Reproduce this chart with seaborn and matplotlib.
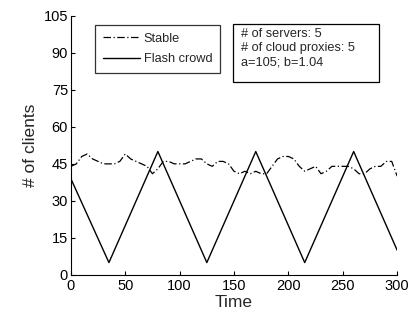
import matplotlib
matplotlib.use("Agg")
import matplotlib.pyplot as plt
from matplotlib.patches import Rectangle
import seaborn as sns
import pandas as pd

# Zeitachse und Serien
time_stable = list(range(0, 301, 5))
stable = [44, 45, 48, 49, 47, 46, 45, 45, 45, 46,
          49, 47, 46, 45, 44, 41, 43, 46, 46, 45,
          45, 45, 46, 47, 47, 45, 44, 46, 46, 45,
          42, 41, 42, 41, 42, 41, 41, 44, 47, 48,
          48, 47, 44, 42, 43, 44, 41, 42, 44, 44,
          44, 44, 43, 41, 41, 43, 44, 44, 46, 46, 40]
time_flash = [0, 35, 80, 125, 170, 215, 260, 300]
flash = [39, 5, 50, 5, 50, 5, 50, 10]

x_ticks = [0, 50, 100, 150, 200, 250, 300]
y_ticks = [0, 15, 30, 45, 60, 75, 90, 105]
info_lines = ["# of servers: 5", "# of cloud proxies: 5", "a=105; b=1.04"]

sns.set_style("ticks")
plt.rcParams['font.family'] = ['Liberation Sans', 'DejaVu Sans']
plt.rcParams['xtick.direction'] = 'in'
plt.rcParams['ytick.direction'] = 'in'

df_stable = pd.DataFrame({'Time': time_stable, 'clients': stable})
df_flash = pd.DataFrame({'Time': time_flash, 'clients': flash})

fig = plt.figure(figsize=(4.12, 3.16), dpi=100)
ax = fig.add_axes([0.172, 0.130, 0.792, 0.820])

sns.lineplot(data=df_stable, x='Time', y='clients', ax=ax, color='black',
             linestyle=(0, (6, 2, 1, 2)), linewidth=0.9, label='Stable')
sns.lineplot(data=df_flash, x='Time', y='clients', ax=ax, color='black',
             linewidth=1.0, label='Flash crowd')

ax.set_xlim(0, 300)
ax.set_ylim(0, 105)
ax.set_xticks(x_ticks)
ax.set_yticks(y_ticks)
ax.tick_params(labelsize=10.5, length=3, width=0.8, colors='black')
ax.tick_params(axis='x', pad=3)
ax.tick_params(axis='y', pad=2)
ax.set_xlabel('Time', fontsize=12.5, labelpad=1.5)
ax.set_ylabel('# of clients', fontsize=12.5, labelpad=4)
for side in ['top', 'right']:
    ax.spines[side].set_visible(False)
for side in ['left', 'bottom']:
    ax.spines[side].set_linewidth(0.8)
    ax.spines[side].set_color('black')

leg = ax.legend(loc='upper left', bbox_to_anchor=(0.074, 0.965), fontsize=9.2,
                frameon=True, fancybox=False, edgecolor='black',
                handlelength=2.9, handletextpad=0.3, borderpad=0.6,
                labelspacing=0.7, borderaxespad=0)
leg.get_frame().set_linewidth(0.9)

# Infobox
ax.add_patch(Rectangle((0.497, 0.745), 0.448, 0.224, transform=ax.transAxes,
                       facecolor='white', edgecolor='black', linewidth=0.9,
                       zorder=5))
ax.text(0.521, 0.952, "\n".join(info_lines), transform=ax.transAxes,
        fontsize=9.2, va='top', ha='left', linespacing=1.25, zorder=6)

fig.savefig('out.png', dpi=100)
